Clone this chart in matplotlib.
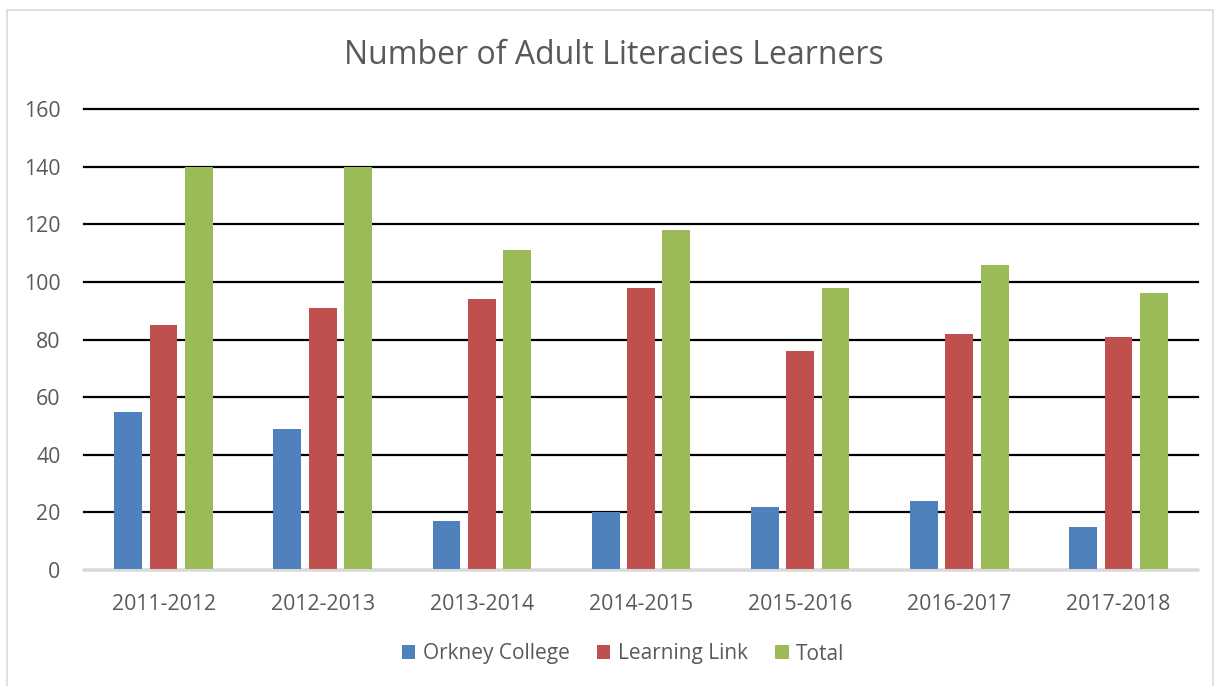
import matplotlib.pyplot as plt
from matplotlib.patches import Rectangle
import numpy as np

plt.rcParams['font.family'] = ['Open Sans', 'DejaVu Sans']

# === data
years = ["2011-2012", "2012-2013", "2013-2014", "2014-2015",
         "2015-2016", "2016-2017", "2017-2018"]
orkney_college = [55, 49, 17, 20, 22, 24, 15]
learning_link = [85, 91, 94, 98, 76, 82, 81]
total = [140, 140, 111, 118, 98, 106, 96]

series_names = ["Orkney College", "Learning Link", "Total"]
colors = ["#4f81bd", "#c0504d", "#9bbb59"]
text_col = "#595959"

fig = plt.figure(figsize=(12.2, 6.86), dpi=100)
ax = fig.add_axes([84 / 1220, 1 - 570 / 686, (1198 - 84) / 1220, (570 - 109) / 686])

# chart border
fig.patches.append(Rectangle((7 / 1220, -0.05), 1206 / 1220, 1.05 - 10 / 686,
                             transform=fig.transFigure, fill=False,
                             edgecolor="#d9d9d9", linewidth=1.2))

x = np.arange(len(years))
width = 0.175
step = 0.222
for i, (vals, name) in enumerate(zip([orkney_college, learning_link, total], series_names)):
    ax.bar(x + (i - 1) * step, vals, width, color=colors[i], label=name, zorder=3)

ax.set_xlim(-0.5, len(years) - 0.5)
ax.set_ylim(0, 160)
ax.set_yticks(range(0, 161, 20))
ax.set_xticks(x)
ax.set_xticklabels(years)
ax.yaxis.grid(True, color="black", linewidth=1.6, zorder=0)
for gl in ax.get_ygridlines():
    gl.set_clip_on(False)
ax.set_axisbelow(True)
for s in ["top", "right", "left"]:
    ax.spines[s].set_visible(False)
ax.spines["bottom"].set_color("#d9d9d9")
ax.spines["bottom"].set_linewidth(1.5)
ax.spines["bottom"].set_zorder(4)
ax.tick_params(axis="both", length=0, labelsize=15.3, labelcolor=text_col)
ax.tick_params(axis="x", pad=17)
ax.tick_params(axis="y", pad=17)

fig.text(0.5 + 4 / 1220, 1 - 56 / 686, "Number of Adult Literacies Learners", ha="center",
         va="center", fontsize=23, color=text_col)

fig.legend(loc="center", bbox_to_anchor=(0.5 + 13 / 1220, 1 - 654 / 686), ncol=3, frameon=False,
           fontsize=15, labelcolor=text_col, handlelength=0.66, handleheight=0.66,
           handletextpad=0.35, columnspacing=1.3)

fig.savefig("out.png", dpi=100)
